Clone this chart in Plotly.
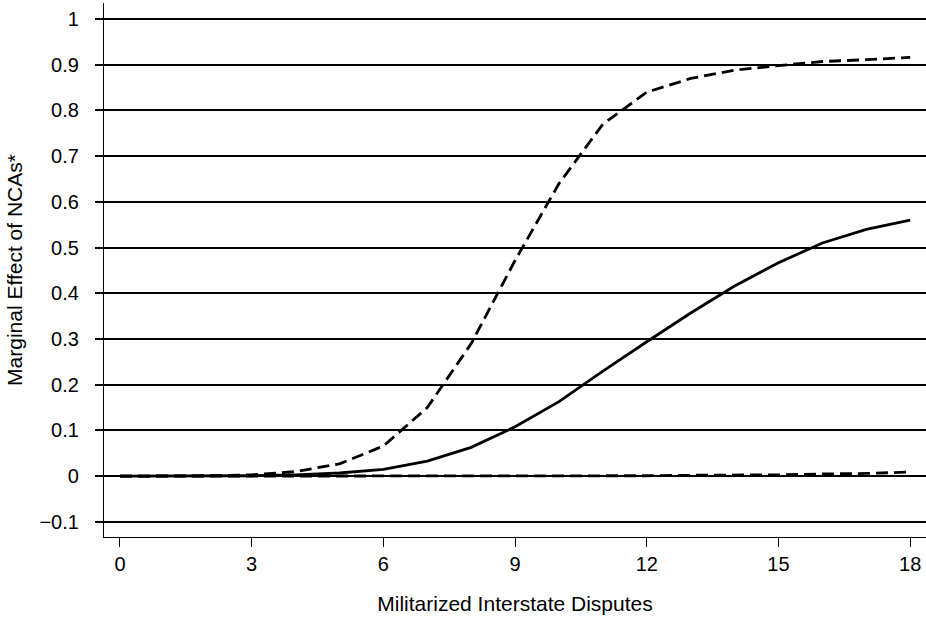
import plotly.graph_objects as go

disputes = list(range(0, 19))
effect = [0, 0, 0, 0.001, 0.003, 0.007, 0.015, 0.033, 0.063, 0.108, 0.163, 0.23, 0.294, 0.357, 0.416, 0.467, 0.51, 0.54, 0.56]
upper = [0, 0, 0.001, 0.003, 0.01, 0.027, 0.066, 0.15, 0.29, 0.472, 0.64, 0.77, 0.84, 0.87, 0.888, 0.898, 0.907, 0.911, 0.916]
lower = [0, 0, 0, 0, 0, 0, 0, 0, 0, 0, 0.001, 0.001, 0.001, 0.002, 0.002, 0.003, 0.005, 0.006, 0.009]

y_ticks = [-0.1, 0, 0.1, 0.2, 0.3, 0.4, 0.5, 0.6, 0.7, 0.8, 0.9, 1]
y_labels = ["\u22120.1", "0", "0.1", "0.2", "0.3", "0.4", "0.5", "0.6", "0.7", "0.8", "0.9", "1"]
x_ticks = [0, 3, 6, 9, 12, 15, 18]

fig = go.Figure()
fig.add_trace(go.Scatter(x=disputes, y=lower, mode="lines",
                         line=dict(color="black", width=2.8, dash="12px,6px")))
fig.add_trace(go.Scatter(x=disputes, y=upper, mode="lines",
                         line=dict(color="black", width=2.8, dash="12px,6px")))
fig.add_trace(go.Scatter(x=disputes, y=effect, mode="lines",
                         line=dict(color="black", width=2.8)))

font = "Liberation Sans, Arial, Helvetica, sans-serif"
fig.update_layout(
    width=926, height=617,
    margin=dict(l=104, r=0, t=3, b=80),
    paper_bgcolor="white", plot_bgcolor="white",
    showlegend=False,
    font=dict(family=font, size=20, color="black"),
    xaxis=dict(
        range=[-0.364, 18.36],
        tickvals=x_ticks,
        ticks="outside", ticklen=9, tickwidth=1.2, tickcolor="black",
        showline=True, linecolor="black", linewidth=1.2,
        showgrid=False, zeroline=False,
        title=dict(text="Militarized Interstate Disputes", standoff=22, font=dict(size=21)),
        tickfont=dict(size=20),
    ),
    yaxis=dict(
        range=[-0.133, 1.035],
        tickvals=y_ticks, ticktext=y_labels,
        ticks="outside", ticklen=8, tickwidth=1.5, tickcolor="black",
        ticklabelstandoff=12,
        showline=True, linecolor="black", linewidth=1.2,
        showgrid=True, gridcolor="black", gridwidth=1.5,
        zeroline=False,
        title=dict(text="Marginal Effect of NCAs*", standoff=11, font=dict(size=21)),
        tickfont=dict(size=20),
    ),
)

fig.write_html("out.html",
               config={"displayModeBar": False},
               post_script="document.body.style.margin='0';document.body.style.padding='0';")
